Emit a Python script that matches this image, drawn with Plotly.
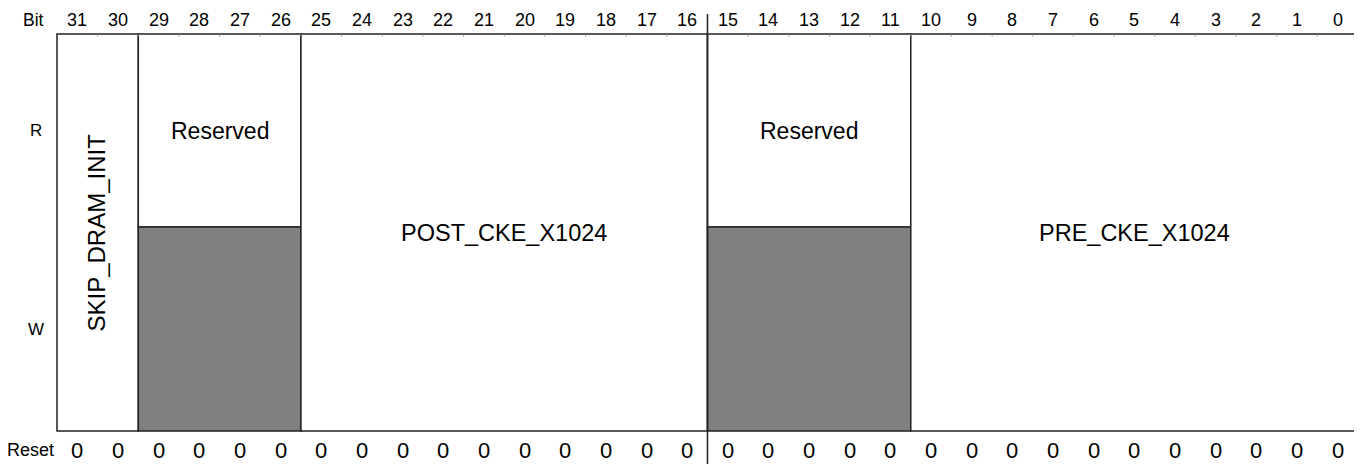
import plotly.graph_objects as go

# ---- data ----
bits = [31, 30, 29, 28, 27, 26, 25, 24, 23, 22, 21, 20, 19, 18, 17, 16,
        15, 14, 13, 12, 11, 10, 9, 8, 7, 6, 5, 4, 3, 2, 1, 0]
reset_values = [0, 0, 0, 0, 0, 0, 0, 0, 0, 0, 0, 0, 0, 0, 0, 0,
                0, 0, 0, 0, 0, 0, 0, 0, 0, 0, 0, 0, 0, 0, 0, 0]
field_names = ["SKIP_DRAM_INIT", "Reserved", "POST_CKE_X1024", "Reserved", "PRE_CKE_X1024"]
field_msb = [31, 29, 25, 15, 10]
field_lsb = [30, 26, 16, 11, 0]
field_reserved = [False, True, False, True, False]
field_vertical = [True, False, False, False, False]
row_labels = ["R", "W"]

# ---- layout constants ----
W_ROW_TOP = 0.5139   # split between R and W rows (box spans 0..1)
BIT_ROW_Y = 1.036
RESET_ROW_Y = -0.049
LINE = dict(color="#222222", width=1.5)
GRAY = "#808080"
FONT = "Liberation Sans, Arial, Helvetica, sans-serif"


def col_left(bit):
    return 31 - bit


def col_center(bit):
    return 31 - bit + 0.5


fig = go.Figure()
shapes = []
annotations = []

# fields
for name, msb, lsb, res, vert in zip(field_names, field_msb, field_lsb, field_reserved, field_vertical):
    x0 = col_left(msb)
    x1 = col_left(lsb) + 1
    xc = (x0 + x1) / 2
    if res:
        shapes.append(dict(type="rect", xref="x", yref="y", x0=x0, x1=x1, y0=W_ROW_TOP, y1=1,
                           fillcolor="white", line=LINE, layer="above"))
        shapes.append(dict(type="rect", xref="x", yref="y", x0=x0, x1=x1, y0=0, y1=W_ROW_TOP,
                           fillcolor=GRAY, line=LINE, layer="above"))
        annotations.append(dict(x=xc, y=(1 + W_ROW_TOP) / 2, xref="x", yref="y", text=name,
                                showarrow=False, font=dict(size=23, color="black", family=FONT)))
    else:
        shapes.append(dict(type="rect", xref="x", yref="y", x0=x0, x1=x1, y0=0, y1=1,
                           fillcolor="white", line=LINE, layer="above"))
        annotations.append(dict(x=xc - (0.04 if vert else 0), y=0.5, xref="x", yref="y", text=name,
                                textangle=-90 if vert else 0,
                                showarrow=False,
                                font=dict(size=24 if vert else 23.5, color="black", family=FONT)))

# faint ticks at bit boundaries on top edge
for b in bits[1:]:
    shapes.append(dict(type="line", xref="x", yref="y", x0=col_left(b), x1=col_left(b),
                       y0=1, y1=0.994, line=dict(color="#888888", width=1), layer="above"))

# divider between halves (bits 16/15) through label rows
shapes.append(dict(type="line", xref="x", yref="y", x0=col_left(15), x1=col_left(15),
                   y0=1.0504, y1=-0.09, line=LINE, layer="above"))

# bit labels and reset values
for b, r in zip(bits, reset_values):
    annotations.append(dict(x=col_center(b), y=BIT_ROW_Y, xref="x", yref="y", text=str(b),
                            showarrow=False, font=dict(size=18, color="black", family=FONT)))
    annotations.append(dict(x=col_center(b), y=RESET_ROW_Y, xref="x", yref="y", text=str(r),
                            showarrow=False, font=dict(size=22, color="black", family=FONT)))

annotations.append(dict(x=-0.27, y=BIT_ROW_Y, xref="x", yref="y", text="Bit", xanchor="right",
                        showarrow=False, font=dict(size=17.5, color="black", family=FONT)))
annotations.append(dict(x=-0.02, y=RESET_ROW_Y, xref="x", yref="y", text="Reset", xanchor="right",
                        showarrow=False, font=dict(size=18, color="black", family=FONT)))
annotations.append(dict(x=-0.33, y=(1 + W_ROW_TOP) / 2, xref="x", yref="y", text=row_labels[0],
                        xanchor="right", showarrow=False, font=dict(size=17, color="black", family=FONT)))
annotations.append(dict(x=-0.26, y=W_ROW_TOP / 2, xref="x", yref="y", text=row_labels[1],
                        xanchor="right", showarrow=False, font=dict(size=17, color="black", family=FONT)))

# page body has an 8px margin: figure is 1354x456 placed at (8, 8)
fig.update_layout(
    width=1354, height=456, autosize=False,
    margin=dict(l=0, r=0, t=0, b=0),
    paper_bgcolor="white", plot_bgcolor="white",
    shapes=shapes, annotations=annotations,
    showlegend=False,
    xaxis=dict(range=[-1.2052, 32.0985], visible=False, fixedrange=True),
    yaxis=dict(range=[-0.0831, 1.0655], visible=False, fixedrange=True),
)

fig.write_html("out.html")
